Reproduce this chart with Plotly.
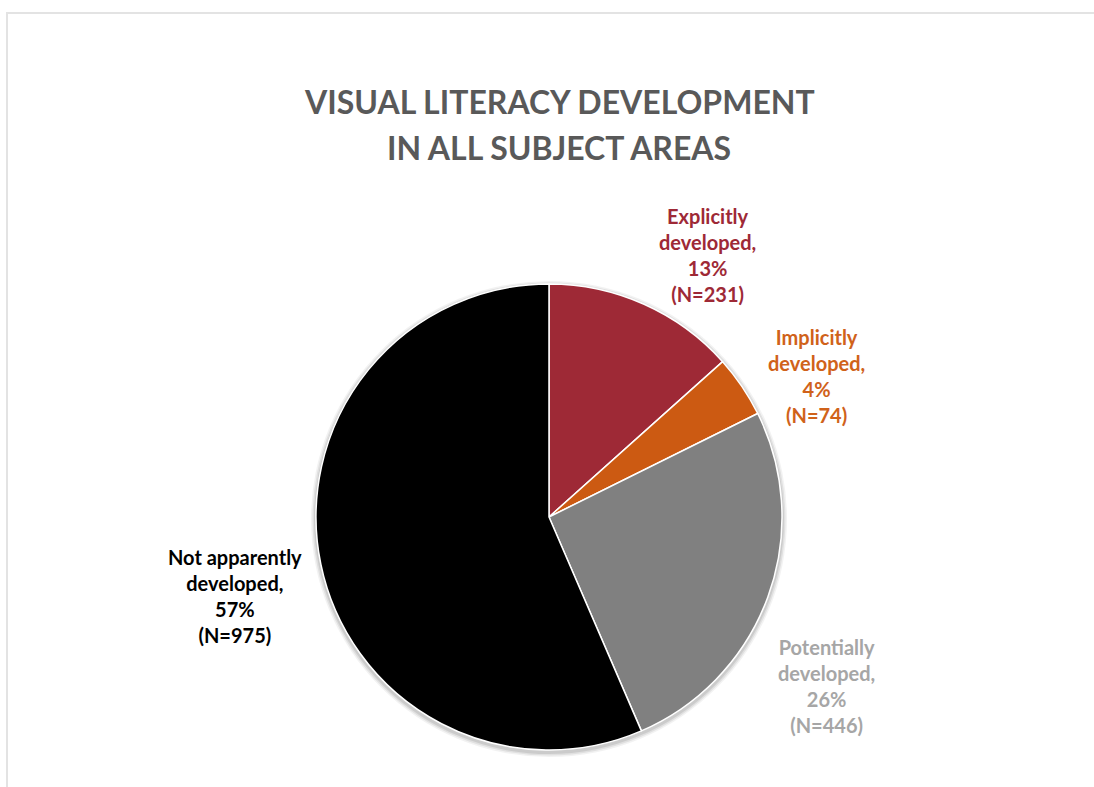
import plotly.graph_objects as go

# Category counts, clockwise from 12 o'clock
categories = ["Explicitly developed", "Implicitly developed",
              "Potentially developed", "Not apparently developed"]
counts = [231, 74, 446, 975]
percent_labels = [13, 4, 26, 57]
slice_colors = ["#9E2936", "#CC5A12", "#808080", "#000000"]
label_colors = ["#9E2936", "#D0621A", "#A6A6A6", "#000000"]

W, H = 1094, 787
CX, CY, R = 549, 517, 233  # pie centre and radius in pixels


def px_x(v):
    return v / W


def px_y(v):
    return 1 - v / H


fig = go.Figure(go.Pie(
    labels=categories,
    values=counts,
    sort=False,
    direction="clockwise",
    rotation=0,
    marker=dict(colors=slice_colors, line=dict(color="white", width=1.5)),
    textinfo="none",
    hoverinfo="label+value+percent",
    showlegend=False,
    domain=dict(x=[px_x(CX - R), px_x(CX + R)], y=[px_y(CY + R), px_y(CY - R)]),
))

# Soft drop shadow behind the pie
for grow, alpha in [(5, 0.05), (3.5, 0.07), (2, 0.09)]:
    rr = R + grow
    fig.add_shape(type="circle", xref="paper", yref="paper",
                  x0=px_x(CX - rr), x1=px_x(CX + rr),
                  y0=px_y(CY + 2 + rr), y1=px_y(CY + 2 - rr),
                  line=dict(width=0), fillcolor=f"rgba(0,0,0,{alpha})",
                  layer="below")

# Data labels placed outside each slice (pixel positions of label centres)
label_pos = [(707, 255), (816, 376), (826, 686), (235, 596)]
for name, n, pct, col, (px, py) in zip(categories, counts, percent_labels,
                                       label_colors, label_pos):
    first, second = name.rsplit(" ", 1)
    text = f"{first}<br>{second},<br>{pct}%<br>(N={n})"
    fig.add_annotation(
        x=px_x(px), y=px_y(py), xref="paper", yref="paper",
        text=text, showarrow=False, align="center",
        xanchor="center", yanchor="middle",
        font=dict(family="Lato", size=20, color=col, weight="bold"),
    )

# Chart title, two lines
for line, ly in [("VISUAL LITERACY DEVELOPMENT", 101),
                 ("IN ALL SUBJECT AREAS", 147)]:
    fig.add_annotation(
        x=px_x(559), y=px_y(ly), xref="paper", yref="paper",
        text=line, showarrow=False, align="center",
        xanchor="center", yanchor="middle",
        font=dict(family="Lato", size=32, color="#595959", weight="bold"),
    )

# Chart-area border
fig.add_shape(type="rect", xref="paper", yref="paper",
              x0=px_x(7), x1=1.05, y0=-0.05, y1=px_y(13),
              line=dict(color="#E3E3E3", width=2), fillcolor="rgba(0,0,0,0)",
              layer="below")

fig.update_layout(
    width=W, height=H,
    margin=dict(l=0, r=0, t=0, b=0),
    paper_bgcolor="white", plot_bgcolor="white",
)

fig.write_html("out.html")
